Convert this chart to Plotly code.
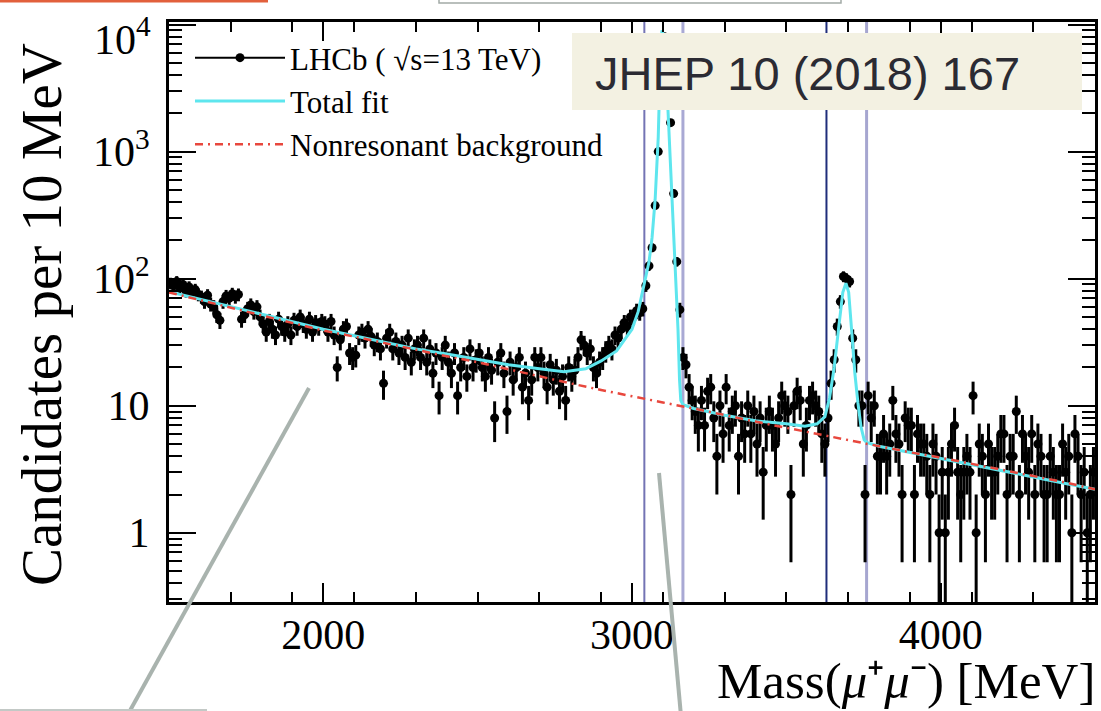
import numpy as np
import plotly.graph_objects as go

# ---------------- data ----------------
bin_start = 1500   # MeV, left edge of first bin
bin_width = 10     # MeV

counts = [
    92, 88, 95, 85, 90, 80, 86, 78, 82, 75,      # 1500-1600
    72, 66, 74, 63, 60, 52, 47, 66, 73, 70,      # 1600-1700
    76, 72, 75, 48, 52, 58, 62, 55, 60, 50,      # 1700-1800
    44, 38, 46, 40, 36, 48, 42, 38, 44, 36,      # 1800-1900
    47, 42, 50, 44, 40, 48, 38, 45, 42, 46,      # 1900-2000
    44, 38, 46, 36, 20, 33, 40, 42, 26, 24,      # 2000-2100
    25, 36, 38, 34, 40, 35, 30, 32, 28, 15,      # 2100-2200
    34, 38, 28, 32, 26, 30, 24, 34, 22, 28,      # 2200-2300
    30, 24, 34, 22, 28, 18, 26, 12, 24, 30,      # 2300-2400
    22, 18, 26, 12, 20, 24, 17, 28, 20, 23,      # 2400-2500
    26, 20, 17, 24, 19, 8, 22, 26, 18, 9,        # 2500-2600
    22, 16, 20, 24, 14, 18, 11, 16, 24, 20,      # 2600-2700
    24, 18, 14, 21, 16, 19, 13, 17, 11, 20,      # 2700-2800
    17, 19, 24, 33, 30, 26, 28, 20, 18, 22,      # 2800-2900
    24, 27, 30, 28, 36, 34, 40, 45, 42, 50,      # 2900-3000
    50, 56, 54, 58, 88, 126, 175, 376, 1000, 7000,   # 3000-3100
    8000, 4500, 1690, 467, 136, 57, 24, 21, 14, 11,  # 3100-3200
    9, 7, 11, 7, 13, 14, 8, 4, 10, 6,            # 3200-3300
    14, 7, 9, 10, 4, 8, 6, 10, 6, 9,             # 3300-3400
    5, 8, 3, 7, 9, 7, 5, 8, 12, 10,              # 3400-3500
    9, 2, 10, 13, 11, 5, 7, 11, 12, 10,          # 3500-3600
    9, 6, 5, 8, 15, 23, 42, 66, 104, 100,        # 3600-3700
    95, 34, 23, 10, 10, 2, 12, 8, 10, 4,         # 3700-3800
    4, 6, 4, 5, 11, 6, 5, 2, 8, 7,               # 3800-3900
    7, 2, 6, 5, 5, 4, 2, 5, 4, 1,                # 3900-4000
    3, 1, 3, 5, 7, 3, 2, 3, 4, 3,                # 4000-4100
    12, 1, 5, 4, 2, 5, 3, 3, 4, 6,               # 4100-4200
    6, 2, 4, 4, 9, 2, 6, 4, 3, 6,                # 4200-4300
    2, 5, 4, 2, 2, 4, 3, 2, 2, 5,                # 4300-4400
    3, 4, 1, 6, 4, 2, 3, 1, 2, 3,                # 4400-4500
]

fit_mass = [1500, 1600, 1700, 1800, 1900, 2000, 2100, 2200, 2300, 2400,
            2500, 2600, 2700, 2780, 2850, 2900, 2950, 2980, 3000, 3020,
            3040, 3055, 3065, 3075, 3085, 3091, 3097, 3104, 3111, 3117,
            3125, 3130, 3140, 3149, 3154, 3158, 3165, 3200, 3300, 3400,
            3500, 3560, 3600, 3625, 3640, 3655, 3670, 3683, 3693, 3702,
            3712, 3722, 3732, 3742, 3752, 3760, 3800, 3900, 4000, 4100,
            4200, 4300, 4400, 4500]
fit_total = [79, 69, 60, 52, 45.5, 40, 35.5, 31.5, 28, 25.5,
             23, 21, 19.5, 18.5, 19.5, 22.5, 27, 34, 40, 55,
             92, 135, 210, 420, 1300, 4500, 9000, 8000, 4200, 2000,
             1000, 470, 130, 40, 16, 11, 10.2, 9.5, 8.4, 7.6,
             7.2, 6.9, 7.2, 8.2, 11.5, 20, 42, 78, 92, 78,
             38, 18, 10.5, 6.8, 5.4, 5.15, 4.8, 4.3, 3.85, 3.45,
             3.1, 2.75, 2.45, 2.2]

bkg_mass = [1500, 1600, 1700, 1800, 1900, 2000, 2100, 2200, 2300, 2400,
            2500, 2600, 2700, 2800, 2900, 3000, 3100, 3200, 3300, 3400,
            3500, 3600, 3700, 3800, 3900, 4000, 4100, 4200, 4300, 4400, 4500]
bkg_vals = [78, 68, 59, 51, 45, 39, 35, 31, 27.5, 24.5,
            22, 19.3, 17, 15, 13.3, 11.8, 10.6, 9.5, 8.4, 7.5,
            6.7, 6.0, 5.35, 4.8, 4.3, 3.9, 3.5, 3.1, 2.8, 2.5, 2.2]

veto_edges = [3040, 3165, 3630, 3760]
veto_colors = ["#7474b4", "#a9a9d4", "#1f2d7a", "#a6a6d0"]
veto_widths = [2, 3, 2, 3]

x_ticks = [2000, 3000, 4000]
y_ticks = [1, 10, 100, 1000, 10000]
# the top label (10^4) is drawn separately, lowered inside the figure as in the original
y_ticktext = ["1", "10", "10<sup>2</sup>", "10<sup>3</sup>", ""]
y_top_label = "10<sup>4</sup>"

# ---------------- derived ----------------
counts = np.array(counts, dtype=float)
centers = bin_start + bin_width * (np.arange(len(counts)) + 0.5)
err_up = np.sqrt(counts)
err_dn = np.minimum(np.sqrt(counts), counts * 0.999)

# ---------------- layout geometry (pixels) ----------------
W, H = 1101, 711
L, R, T, B = 169, 6, 22, 109
PW, PH = W - L - R, H - T - B


def fx(px):
    return (px - L) / PW


def fy(py):
    return (H - B - py) / PH


SERIF = "Liberation Serif, Times New Roman, serif"
SANS = "Liberation Sans, Arial, sans-serif"
CYAN = "#5ee6ee"
RED = "#e8473d"
RED_DASH = "8px,5px,2px,5px"

fig = go.Figure()

# data points
fig.add_trace(go.Scatter(
    x=centers, y=counts, mode="markers", showlegend=False,
    marker=dict(color="black", size=9),
    error_y=dict(type="data", symmetric=False, array=err_up, arrayminus=err_dn,
                 thickness=3, width=0, color="black"),
))
# total fit
fig.add_trace(go.Scatter(
    x=fit_mass, y=fit_total, mode="lines", showlegend=False,
    line=dict(color=CYAN, width=3),
))
# background
fig.add_trace(go.Scatter(
    x=bkg_mass, y=bkg_vals, mode="lines", showlegend=False,
    line=dict(color=RED, width=2.5, dash=RED_DASH),
))

# legend entries
fig.add_trace(go.Scatter(x=[None], y=[None], mode="lines+markers",
                         name="LHCb ( √s=13 TeV)", legendgroup="a",
                         line=dict(color="black", width=2),
                         marker=dict(color="black", size=9)))
fig.add_trace(go.Scatter(x=[None], y=[None], mode="lines", name="Total fit",
                         legendgroup="b", line=dict(color=CYAN, width=3)))
fig.add_trace(go.Scatter(x=[None], y=[None], mode="lines",
                         name="Nonresonant background", legendgroup="c",
                         line=dict(color=RED, width=2.5, dash=RED_DASH)))

shapes = []
for m, c, w in zip(veto_edges, veto_colors, veto_widths):
    shapes.append(dict(type="line", xref="x", yref="paper", x0=m, x1=m, y0=0, y1=1,
                       line=dict(color=c, width=w), layer="below"))

# JHEP label box
shapes.append(dict(type="rect", xref="paper", yref="paper",
                   x0=fx(572), x1=fx(1082), y0=fy(110), y1=fy(33),
                   fillcolor="#f3f1e2", line=dict(width=0), layer="above"))
# decorative pointer lines and page elements
shapes.append(dict(type="line", xref="paper", yref="paper",
                   x0=fx(309), y0=fy(388), x1=fx(127), y1=fy(716),
                   line=dict(color="#a9b3ae", width=4), layer="above"))
shapes.append(dict(type="line", xref="paper", yref="paper",
                   x0=fx(659), y0=fy(473), x1=fx(681), y1=fy(716),
                   line=dict(color="#a9b3ae", width=4), layer="above"))
shapes.append(dict(type="line", xref="paper", yref="paper",
                   x0=fx(0), y0=fy(710), x1=fx(207), y1=fy(710),
                   line=dict(color="#c3c9c6", width=2), layer="above"))
shapes.append(dict(type="line", xref="paper", yref="paper",
                   x0=fx(0), y0=fy(1), x1=fx(268), y1=fy(1),
                   line=dict(color="#e2603c", width=3), layer="above"))
shapes.append(dict(type="rect", xref="paper", yref="paper",
                   x0=fx(439), y0=fy(3), x1=fx(841), y1=fy(-6),
                   fillcolor="white", line=dict(color="#a3aba7", width=1.5), layer="above"))

annotations = [
    dict(text="JHEP 10 (2018) 167", xref="paper", yref="paper",
         x=fx(807), y=fy(73), xanchor="center", yanchor="middle", showarrow=False,
         font=dict(family=SANS, size=47, color="#2b2b33")),
    dict(text="Candidates per 10 MeV", xref="paper", yref="paper",
         x=fx(41), y=fy(315), xanchor="center", yanchor="middle", showarrow=False,
         textangle=-90, font=dict(family=SERIF, size=57, color="black")),
    dict(text="Mass(<i>μ</i>⁺<i>μ</i>⁻) [MeV]",
         xref="paper", yref="paper",
         x=fx(1097), y=fy(681), xanchor="right", yanchor="middle", showarrow=False,
         font=dict(family=SERIF, size=51, color="black")),
    dict(text=y_top_label, xref="paper", yref="paper",
         x=fx(153), y=fy(36), xanchor="right", yanchor="middle", showarrow=False,
         font=dict(family=SERIF, size=42, color="black")),
]

minor_y = [k * 10.0 ** e for e in range(-1, 4) for k in range(2, 10)]

fig.update_layout(
    width=W, height=H,
    margin=dict(l=L, r=R, t=T, b=B, autoexpand=False),
    paper_bgcolor="white", plot_bgcolor="white",
    shapes=shapes, annotations=annotations,
    showlegend=True,
    legend=dict(x=fx(190), y=fy(31), xanchor="left", yanchor="top",
                bgcolor="rgba(0,0,0,0)", borderwidth=0,
                font=dict(family=SERIF, size=31, color="black"),
                itemwidth=90, tracegroupgap=0, traceorder="normal"),
    xaxis=dict(range=[1500, 4500], tickmode="array", tickvals=x_ticks,
               ticks="inside", ticklen=19, tickwidth=2, tickcolor="black",
               showline=True, linewidth=3, linecolor="black", mirror="ticks",
               showgrid=False, zeroline=False,
               tickfont=dict(family=SERIF, size=42, color="black"),
               ticklabelstandoff=-6, ticklabeloverflow="allow",
               minor=dict(ticks="inside", ticklen=10, tickwidth=2, tickcolor="black",
                          dtick=200, tick0=1500, showgrid=False)),
    yaxis=dict(type="log", range=[-0.545, 4.02], tickmode="array",
               tickvals=y_ticks, ticktext=y_ticktext,
               ticks="inside", ticklen=27, tickwidth=2, tickcolor="black",
               showline=True, linewidth=3, linecolor="black", mirror="ticks",
               showgrid=False, zeroline=False,
               tickfont=dict(family=SERIF, size=42, color="black"),
               ticklabelstandoff=8, ticklabeloverflow="allow",
               minor=dict(ticks="inside", ticklen=13, tickwidth=2, tickcolor="black",
                          tickvals=minor_y, showgrid=False)),
)

fig.write_html("out.html")
